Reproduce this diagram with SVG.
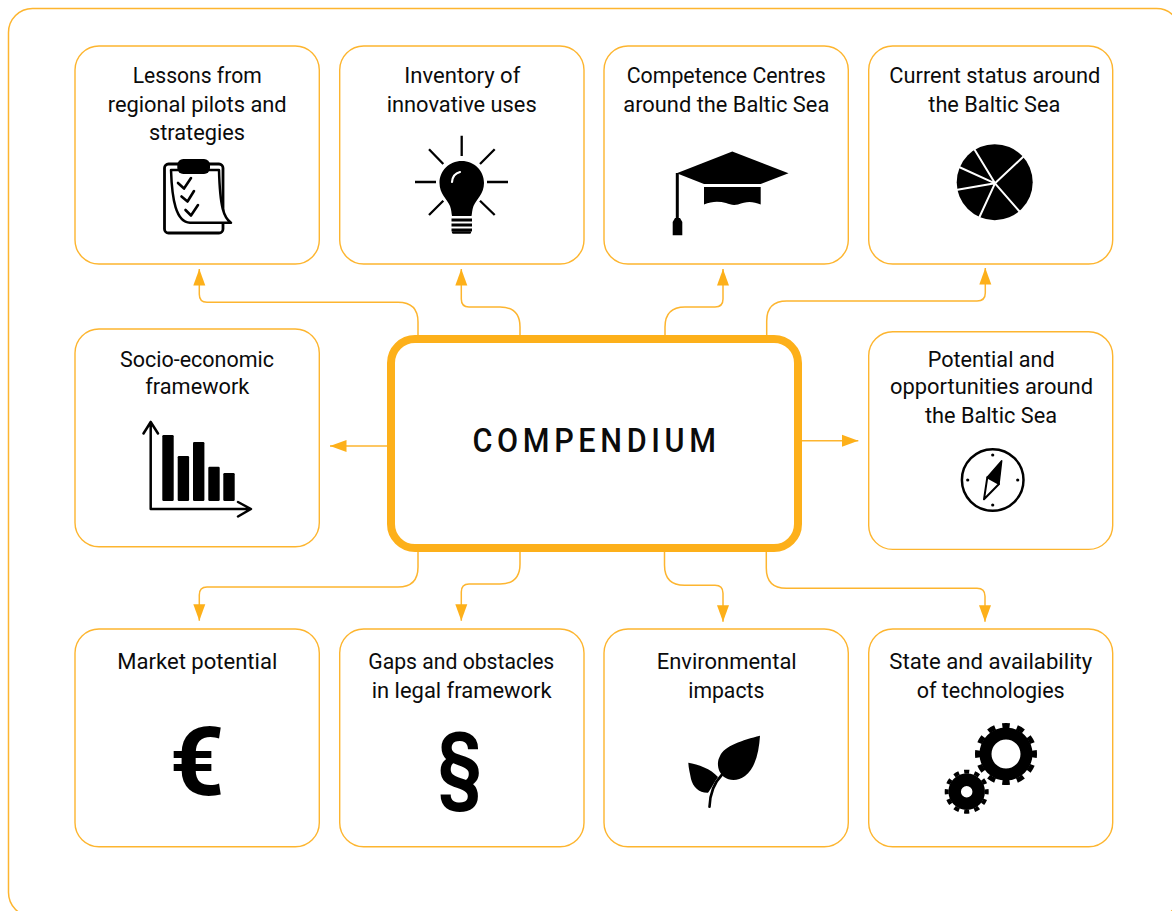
<svg xmlns="http://www.w3.org/2000/svg" width="1172" height="911" viewBox="0 0 1172 911">
<style>
.box{fill:#fff;stroke:#FDB52F;stroke-width:1.4}
.conn{fill:none;stroke:#FDB52F;stroke-width:1.5}
.t{font-family:Roboto,"Liberation Sans",sans-serif;font-size:21.5px;fill:#0b0b0b}
.ln{fill:none;stroke:#000;stroke-linecap:round;stroke-linejoin:round}
</style>
<defs>
<marker id="ah" markerUnits="userSpaceOnUse" markerWidth="17" markerHeight="13" refX="16.5" refY="6.5" orient="auto">
<path d="M0 0.5L16.5 6.5L0 12.5Z" fill="#FDB01A"/>
</marker>
</defs>
<rect width="1172" height="911" fill="#fff"/>
<rect id="frame" x="8.5" y="8.5" width="1172" height="908" rx="24" fill="none" stroke="#FDB52F" stroke-width="1.5"/>
<g id="connectors">
<path class="conn" marker-end="url(#ah)" d="M418 335V322Q418 302.300 398 302.300H207Q199.300 302.300 199.300 294.300V269"/>
<path class="conn" marker-end="url(#ah)" d="M520 335V327Q520 307 500 307H469Q461.300 307 461.300 299V269"/>
<path class="conn" marker-end="url(#ah)" d="M665 335V327Q665 307 685 307H715Q723 307 723 299V269"/>
<path class="conn" marker-end="url(#ah)" d="M766.700 335V321Q766.700 301 786.700 301H977Q985.300 301 985.300 293V268"/>
<path class="conn" marker-end="url(#ah)" d="M387 446H330"/>
<path class="conn" marker-end="url(#ah)" d="M802 440.700H858.300"/>
<path class="conn" marker-end="url(#ah)" d="M418 552V567Q418 587 398 587H207Q199.300 587 199.300 595V620.700"/>
<path class="conn" marker-end="url(#ah)" d="M520 552V564Q520 584 500 584H469Q461.300 584 461.300 592V620.700"/>
<path class="conn" marker-end="url(#ah)" d="M664.500 552V565Q664.500 585.300 684.500 585.300H715Q723 585.300 723 593.300V621.700"/>
<path class="conn" marker-end="url(#ah)" d="M766.300 552V568Q766.300 588.300 786.300 588.300H977Q985 588.300 985 596.300V621.700"/>
</g>
<g id="center">
<rect x="391" y="339" width="407" height="209" rx="24" fill="#fff" stroke="#FDB01A" stroke-width="8"/>
<text transform="translate(472.500 451.700) scale(.9 1)" textLength="270.500" lengthAdjust="spacing" font-family="Roboto,'Liberation Sans',sans-serif" font-size="34" font-weight="500" fill="#0b0b0b">COMPENDIUM</text>
</g>
<g id="n1">
<rect class="box" x="75" y="46" width="244.300" height="218" rx="24"/>
<text class="t" x="132.700" y="82.700" textLength="129" lengthAdjust="spacingAndGlyphs">Lessons from</text>
<text class="t" x="107.700" y="111.700" textLength="179" lengthAdjust="spacingAndGlyphs">regional pilots and</text>
<text class="t" x="149" y="140" textLength="96" lengthAdjust="spacingAndGlyphs">strategies</text>
<rect class="ln" x="164.500" y="164" width="58.500" height="69" rx="4" stroke-width="2.800"/>
<path d="M171 170C172 200 176 222 190 222.700H231C224 218 220 208 219 170Z" fill="#fff" stroke="#000" stroke-width="2.500" stroke-linejoin="round"/>
<rect x="177.300" y="159" width="32.700" height="15" rx="6" fill="#000"/>
<path class="ln" stroke-width="2.600" d="M178 183L184 188.500L191 178M181.500 196.500L187.500 201.500L194 191M185.500 210L191 215.500L198 205"/>
</g>
<g id="n2">
<rect class="box" x="339.700" y="46" width="244.300" height="218" rx="24"/>
<text class="t" x="404.300" y="82.700" textLength="116" lengthAdjust="spacingAndGlyphs">Inventory of</text>
<text class="t" x="386.700" y="111.700" textLength="150" lengthAdjust="spacingAndGlyphs">innovative uses</text>
<path d="M461.700 161C449 161 439.500 171 439.500 183C439.500 194 447 199 450 206C451.500 210 451.500 214 452 216H471.500C472 214 472 210 473.500 206C476.500 199 484 194 484 183C484 171 474.500 161 461.700 161Z" fill="#000"/>
<path d="M452 182C452.500 176 456 173 460 172" fill="none" stroke="#fff" stroke-width="2.200" stroke-linecap="round"/>
<path stroke="#000" stroke-width="2.300" d="M461.700 135.700V156M415 182H436M487 182H508M429 149.300L443.300 164M494.700 149.300L480 164M429 215L443.300 200.700M494.700 215L480 200.700"/>
<path stroke="#000" stroke-width="2.800" d="M451.500 220H472M451.500 225H472M451.500 230H472"/>
<path stroke="#000" stroke-width="2.300" stroke-linecap="round" d="M453 232.500H470"/>
</g>
<g id="n3">
<rect class="box" x="604" y="46" width="244.300" height="218" rx="24"/>
<text class="t" x="626.700" y="82.700" textLength="199" lengthAdjust="spacingAndGlyphs">Competence Centres</text>
<text class="t" x="623.300" y="111.700" textLength="206" lengthAdjust="spacingAndGlyphs">around the Baltic Sea</text>
<path d="M732.300 151.500L788.500 173.300L760.700 184H704L676.700 173.300Z" fill="#000"/>
<path d="M704 187H760.700V204.500C753 201 746 201 738 204.500C733 205.500 730 204.500 726 203C719 201 712 201 704 204.500Z" fill="#000"/>
<path d="M677.300 173V219" stroke="#000" stroke-width="3"/>
<path d="M675 218H680L682.300 222V235.300H672.700V222Z" fill="#000"/>
</g>
<g id="n4">
<rect class="box" x="868.700" y="46" width="244" height="218" rx="24"/>
<text class="t" x="889.300" y="82.700" textLength="211" lengthAdjust="spacingAndGlyphs">Current status around</text>
<text class="t" x="928.300" y="111.700" textLength="132" lengthAdjust="spacingAndGlyphs">the Baltic Sea</text>
<circle cx="994.700" cy="182.200" r="38" fill="#000"/>
<path stroke="#fff" stroke-width="2" d="M995 183.300L1024 156M995 183.300L1020 212M995 183.300L979 218M995 183.300L956 190M995 183.300L958 166.500M995 183.300L973 147"/>
</g>
<g id="n5">
<rect class="box" x="75" y="329" width="244.300" height="217.700" rx="24"/>
<text class="t" x="120" y="366.700" textLength="154" lengthAdjust="spacingAndGlyphs">Socio-economic</text>
<text class="t" x="145.300" y="394.300" textLength="104" lengthAdjust="spacingAndGlyphs">framework</text>
<path class="ln" stroke-width="2.500" d="M143.500 433.500L150.700 422L158 433.500M150.700 422V509H250.500M238 502L251 509L238 516.500"/>
<g fill="#000">
<rect x="162.300" y="435" width="11.400" height="66" rx="1.200"/>
<rect x="177.700" y="456" width="11.400" height="45" rx="1.200"/>
<rect x="193" y="442" width="11.400" height="59" rx="1.200"/>
<rect x="208.300" y="466.700" width="11.400" height="34.300" rx="1.200"/>
<rect x="223.300" y="473" width="11.400" height="28" rx="1.200"/>
</g>
</g>
<g id="n6">
<rect class="box" x="868.700" y="331.700" width="244" height="217.700" rx="24"/>
<text class="t" x="927.700" y="366.700" textLength="127" lengthAdjust="spacingAndGlyphs">Potential and</text>
<text class="t" x="890" y="394.300" textLength="203" lengthAdjust="spacingAndGlyphs">opportunities around</text>
<text class="t" x="925" y="422.700" textLength="132" lengthAdjust="spacingAndGlyphs">the Baltic Sea</text>
<circle cx="992.700" cy="480" r="30.800" fill="none" stroke="#000" stroke-width="2.500"/>
<g fill="#000"><circle cx="992.700" cy="455" r="1.600"/><circle cx="992.700" cy="505" r="1.600"/><circle cx="967.700" cy="480" r="1.600"/><circle cx="1017.700" cy="480" r="1.600"/>
<path d="M1001.700 460.700L999 484L987.300 477.300Z" stroke="#000" stroke-width="1.500" stroke-linejoin="round"/></g>
<path d="M984 499.300L987.300 477.300L999 484Z" fill="#fff" stroke="#000" stroke-width="2" stroke-linejoin="round"/>
</g>
<g id="n7">
<rect class="box" x="75" y="629" width="244.300" height="217.700" rx="24"/>
<text class="t" x="117.300" y="669.300" textLength="160" lengthAdjust="spacingAndGlyphs">Market potential</text>
<text x="197" y="794.500" text-anchor="middle" font-family="Roboto,'Liberation Sans',sans-serif" font-size="96" font-weight="700" fill="#000">€</text>
</g>
<g id="n8">
<rect class="box" x="339.700" y="629" width="244.300" height="217.700" rx="24"/>
<text class="t" x="368.300" y="669.300" textLength="186" lengthAdjust="spacingAndGlyphs">Gaps and obstacles</text>
<text class="t" x="371.700" y="697.700" textLength="180" lengthAdjust="spacingAndGlyphs">in legal framework</text>
<text transform="translate(460 793) scale(.84 1)" text-anchor="middle" font-family="Roboto,'Liberation Sans',sans-serif" font-size="86" font-weight="700" fill="#000">§</text>
</g>
<g id="n9">
<rect class="box" x="604" y="629" width="244.300" height="217.700" rx="24"/>
<text class="t" x="656.700" y="669.300" textLength="140" lengthAdjust="spacingAndGlyphs">Environmental</text>
<text class="t" x="688.300" y="697.700" textLength="76" lengthAdjust="spacingAndGlyphs">impacts</text>
<g fill="#000">
<path d="M760 735.700C759 752 755 769 745 776C738 781 730 781 724 777C718 772 716 763 720 756C724 746 743 740 760 735.700Z"/>
<path d="M688.300 762.700C698 764 711 769 718 777C715 781 711 789 708 792.700C699 793 693 787 691 779C690 773 688.500 768 688.300 762.700Z"/>
</g>
<path d="M721.700 775C714 783 710 794 709.500 806.700" fill="none" stroke="#000" stroke-width="2.600" stroke-linecap="round"/>
</g>
<g id="n10">
<rect class="box" x="868.700" y="629" width="244" height="217.700" rx="24"/>
<text class="t" x="889.300" y="669.300" textLength="203" lengthAdjust="spacingAndGlyphs">State and availability</text>
<text class="t" x="916.700" y="697.700" textLength="148" lengthAdjust="spacingAndGlyphs">of technologies</text>
<g fill="none" stroke="#000">
<circle cx="1006" cy="754" r="20.500" stroke-width="12"/>
<circle cx="1006" cy="754" r="28.500" stroke-width="5" pathLength="24" stroke-dasharray="1 1" stroke-dashoffset="0.500"/>
<circle cx="966.700" cy="791.700" r="12" stroke-width="12.500"/>
<circle cx="966.700" cy="791.700" r="20" stroke-width="4" pathLength="24" stroke-dasharray="1 1" stroke-dashoffset="0.500"/>
</g>
</g>
</svg>
